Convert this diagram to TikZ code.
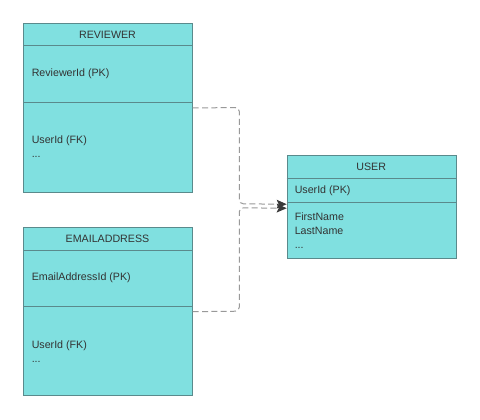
\documentclass[tikz,border=0pt]{standalone}
\usepackage{fontspec}
\setmainfont{Liberation Sans}
\usetikzlibrary{arrows.meta}
\definecolor{boxfill}{HTML}{80E0E0}
\definecolor{boxline}{HTML}{5A8A8C}
\definecolor{txt}{HTML}{333333}
\definecolor{conncol}{HTML}{999999}
\definecolor{tipcol}{HTML}{3A3A3A}
\tikzset{
  entity/.style={draw=boxline, fill=boxfill, line width=0.75pt, anchor=north west, inner sep=0pt},
  divider/.style={draw=boxline, line width=0.75pt},
  title/.style={font=\fontsize{8}{10}\selectfont, text=txt, anchor=center, inner sep=0pt},
  field/.style={font=\fontsize{8}{10.5}\selectfont, text=txt, anchor=west, align=left, inner sep=0pt},
  conn/.style={draw=conncol, line width=0.75pt, dash pattern=on 4.5pt off 2.5pt, rounded corners=3pt,
    -{Stealth[length=7.5pt,width=6.5pt,inset=1.5pt,color=tipcol,fill=tipcol]}},
}
\begin{document}
\begin{tikzpicture}[x=0.75pt,y=-0.75pt]
\useasboundingbox[fill=white] (0,0) rectangle (480,420);
% REVIEWER
\node[entity, minimum width=126.3pt, minimum height=126.3pt] (rev) at (23.3,23.3) {};
\draw[divider] (23.3,46) -- (191.7,46);
\draw[divider] (23.3,102.5) -- (191.7,102.5);
\node[title] (revt) at (107.5,34.5) {REVIEWER};
\node[field] (revpk) at (31.5,73.5) {ReviewerId (PK)};
\node[field, anchor=north west] (revf) at (31.5,136) {UserId (FK)\\...};
% EMAILADDRESS
\node[entity, minimum width=126.3pt, minimum height=125.8pt] (em) at (23.3,227.3) {};
\draw[divider] (23.3,250.3) -- (191.7,250.3);
\draw[divider] (23.3,306.7) -- (191.7,306.7);
\node[title] (emt) at (107.5,238.5) {EMAILADDRESS};
\node[field] (empk) at (31.5,278) {EmailAddressId (PK)};
\node[field, anchor=north west] (emf) at (31.5,340.5) {UserId (FK)\\...};
% USER
\node[entity, minimum width=126.75pt, minimum height=77.5pt] (user) at (286.7,155) {};
\draw[divider] (286.7,178.7) -- (455.7,178.7);
\draw[divider] (286.7,202.3) -- (455.7,202.3);
\node[title] (usert) at (371.2,166.5) {USER};
\node[field] (userpk) at (294.5,190.5) {UserId (PK)};
\node[field, anchor=north west] (userf) at (294.5,212.5) {FirstName\\LastName\\...};
% connectors
\draw[conn] (rev.east) -- (239.3,107.5) -- (239.3,203.8) -- ([yshift=2.2pt]user.west);
\draw[conn] (em.east) -- (239.3,311.2) -- (239.3,207.8) -- ([yshift=-0.8pt]user.west);
\end{tikzpicture}
\end{document}
